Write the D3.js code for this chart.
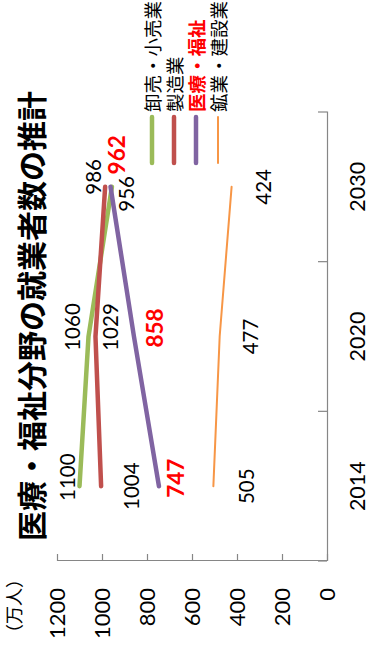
<!DOCTYPE html>
<html>
  <head>
    <meta charset="utf-8" />
    <title>医療・福祉分野の就業者数の推計</title>
    <script src="https://cdn.jsdelivr.net/npm/d3@7"></script>
    <style>
      body { margin: 0; background: #fff; }
    </style>
  </head>
  <body>
    <svg width="370" height="647" id="mainsvg"></svg>
    <script>
      // data
      const years = ["2014", "2020", "2030"];
      const seriesNames = ["卸売・小売業", "製造業", "医療・福祉", "鉱業・建設業"];
      const wholesale = [1100, 1060, 956];
      const manufacturing = [1004, 1029, 986];
      const medical = [747, 858, 962];
      const mining = [505, 477, 424];
      const yTicks = [0, 200, 400, 600, 800, 1000, 1200];

      // styles (kept apart from the data)
      const colors = ["#9bbb59", "#c0504d", "#8064a2", "#f79646"];
      const widths = [4.5, 4.5, 4.5, 2];
      // label offsets from each point (chart is drawn unrotated, then turned)
      const labelOffsets = [
        [[9, -13], [9.5, -16.5], [-7, 14]],
        [[0, 30], [9.5, 14.5], [10, -12]],
        [[8, 17], [8.5, 21], [32, 6]],
        [[0, 33], [0, 30], [0, 31]],
      ];

      const series = seriesNames.map((name, i) => ({
        name,
        values: [wholesale, manufacturing, medical, mining][i],
        color: colors[i],
        width: widths[i],
        offsets: labelOffsets[i],
        highlight: name === "医療・福祉",
      }));

      const svg = d3.select("#mainsvg");
      const W = 647; // unrotated chart width
      // draw in landscape, turn counter-clockwise to fit the portrait page
      const root = svg.append("g").attr("transform", `translate(0, ${W}) rotate(-90)`);

      const numFont = "Lato, 'Liberation Sans', sans-serif";
      const jpFont = "'Noto Sans CJK JP', sans-serif";
      const axisColor = "#868686";

      const x = d3.scaleBand().domain(years).range([86, 535]).padding(0);
      const y = d3.scaleLinear().domain([0, 1200]).range([327, 57]);

      // value axis
      const yAxis = d3.axisLeft(y)
        .tickValues(yTicks)
        .tickFormat(d3.format("d"))
        .tickSizeInner(-7)
        .tickSizeOuter(0)
        .tickPadding(27);
      const yg = root.append("g").attr("transform", "translate(86,0)").call(yAxis);
      yg.select(".domain").attr("stroke", axisColor).attr("stroke-width", 1.2);
      yg.selectAll(".tick line").attr("stroke", axisColor).attr("stroke-width", 1.2);
      yg.selectAll(".tick text")
        .attr("font-family", numFont)
        .attr("font-size", 22)
        .attr("fill", "#000");

      // category axis
      const xAxis = d3.axisBottom(x).tickSize(0).tickPadding(23);
      const xg = root.append("g").attr("transform", "translate(0,327)").call(xAxis);
      xg.select(".domain").attr("stroke", axisColor).attr("stroke-width", 1.2);
      xg.selectAll(".tick text")
        .attr("font-family", numFont)
        .attr("font-size", 21.5)
        .attr("fill", "#000");
      const edges = years.map((d) => x(d)).concat([x(years[years.length - 1]) + x.bandwidth()]);
      xg.selectAll(".edge")
        .data(edges)
        .join("line")
        .attr("class", "edge")
        .attr("x1", (d) => d)
        .attr("x2", (d) => d)
        .attr("y1", 0)
        .attr("y2", -9)
        .attr("stroke", axisColor)
        .attr("stroke-width", 1.2);

      // lines
      const line = d3
        .line()
        .x((d, i) => x(years[i]) + x.bandwidth() / 2)
        .y((d) => y(d));

      series.forEach((s) => {
        root.append("path")
          .attr("d", line(s.values))
          .attr("fill", "none")
          .attr("stroke", s.color)
          .attr("stroke-width", s.width)
          .attr("stroke-linecap", "round")
          .attr("stroke-linejoin", "round");
      });

      // data labels
      series.forEach((s) => {
        s.values.forEach((v, i) => {
          root.append("text")
            .text(v)
            .attr("x", x(years[i]) + x.bandwidth() / 2 + s.offsets[i][0])
            .attr("y", y(v) + s.offsets[i][1])
            .attr("text-anchor", "middle")
            .attr("dominant-baseline", "central")
            .attr("font-family", numFont)
            .attr("font-size", s.highlight ? 22.5 : 20.5)
            .attr("font-weight", s.highlight ? "bold" : "normal")
            .attr("fill", s.highlight ? "#ff0000" : "#000");
        });
      });

      // legend
      const legendY = d3.scalePoint().domain(seriesNames).range([152, 218]);
      series.forEach((s) => {
        const ly = legendY(s.name);
        root.append("line")
          .attr("x1", 484)
          .attr("x2", 530)
          .attr("y1", ly)
          .attr("y2", ly)
          .attr("stroke", s.color)
          .attr("stroke-width", s.width)
          .attr("stroke-linecap", "round");
        root.append("text")
          .text(s.name)
          .attr("x", 535)
          .attr("y", ly)
          .attr("dominant-baseline", "central")
          .attr("font-family", jpFont)
          .attr("font-size", 18.5)
          .attr("font-weight", s.highlight ? "bold" : "normal")
          .attr("fill", s.highlight ? "#ff0000" : "#000");
      });

      // title and unit
      root.append("text")
        .text("医療・福祉分野の就業者数の推計")
        .attr("x", 331)
        .attr("y", 30)
        .attr("text-anchor", "middle")
        .attr("dominant-baseline", "central")
        .attr("font-family", jpFont)
        .attr("font-size", 30)
        .attr("font-weight", "bold");

      root.append("text")
        .text("（万人）")
        .attr("x", 41)
        .attr("y", 13)
        .attr("text-anchor", "middle")
        .attr("dominant-baseline", "central")
        .attr("font-family", jpFont)
        .attr("font-size", 18);
    </script>
  </body>
</html>
